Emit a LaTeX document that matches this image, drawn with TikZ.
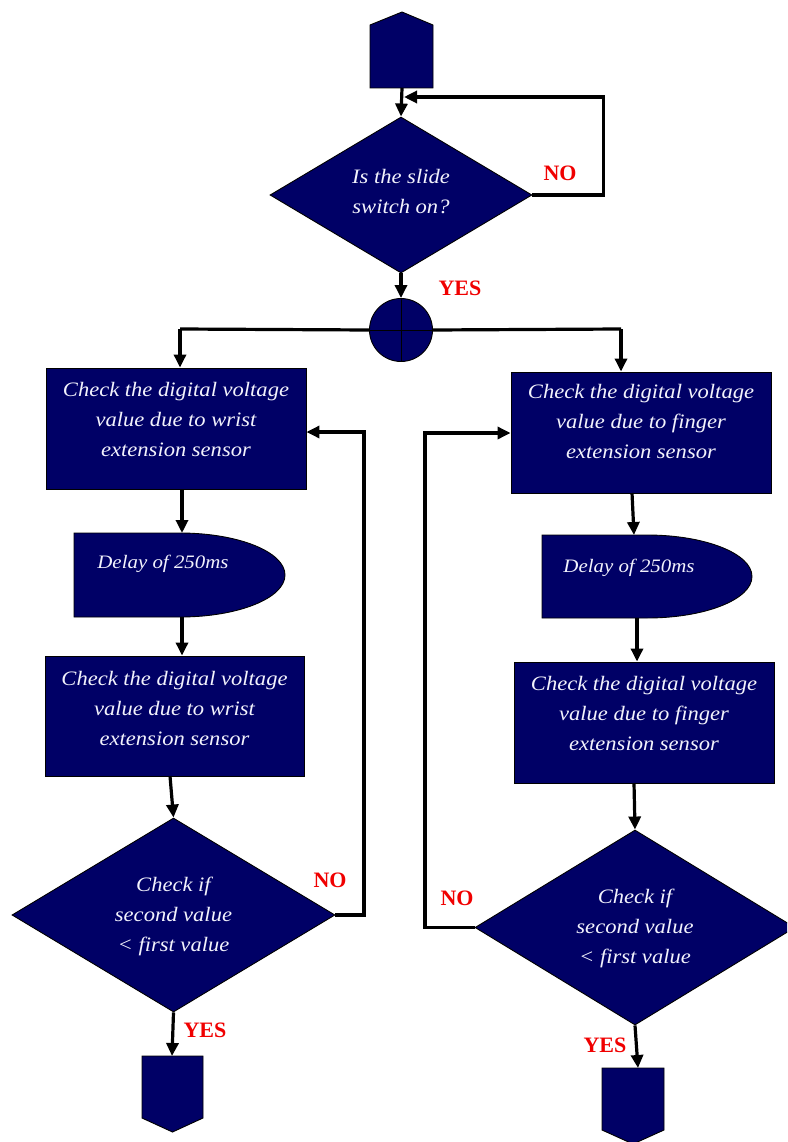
\documentclass[tikz,border=0pt]{standalone}
\usepackage{fontspec}
\setmainfont{Liberation Serif}
\newfontfamily\widefont[FakeStretch=1.1]{Liberation Serif}
\usetikzlibrary{arrows.meta,shapes.geometric,calc}
\definecolor{navy}{RGB}{0,0,102}
\definecolor{lbl}{RGB}{240,0,0}
\definecolor{txtc}{RGB}{242,242,252}
\begin{document}
\begin{tikzpicture}[x=1pt,y=-1pt,
  shp/.style={fill=navy,draw=black,line width=0.9pt},
  boxn/.style={shp,rectangle,inner sep=0pt},
  dia/.style={shp,diamond,inner sep=0pt},
  txt/.style={text=txtc,font=\widefont\fontsize{20.5}{30}\selectfont\itshape,align=center,inner sep=0pt},
  dtxt/.style={text=txtc,font=\widefont\fontsize{19}{22}\selectfont\itshape,inner sep=0pt},
  yn/.style={text=lbl,font=\fontsize{22}{24}\selectfont\bfseries,inner sep=0pt},
  conn/.style={line width=3.2pt,-{Triangle[length=13pt,width=12pt]}},
  line/.style={line width=3.2pt}]
\useasboundingbox (0,0) rectangle (787,1142);
\clip (0,0) rectangle (787,1142);
% start connector
\draw[shp] (370,25) -- (402,12) -- (433,25) -- (433,88) -- (370,88) -- cycle;
\coordinate (start) at (402,88);
% decision 1
\node[dia,minimum width=262pt,minimum height=156pt] (d1) at (401,195) {};
\node[txt] (d1t) at (401,192) {Is the slide\\switch on?};
\coordinate (j1) at (402,97);
% junction
\node[circle,shp,minimum size=63pt,inner sep=0pt] (junc) at (401,330) {};
\draw[line width=0.9pt] (junc.north) -- (junc.south) (junc.west) -- (junc.east);
% left column
\node[boxn,minimum width=260pt,minimum height=121pt] (L1) at (176,428.5) {};
\node[txt] (L1t) at (176,419) {Check the digital voltage\\value due to wrist\\extension sensor};
\draw[shp] (74,533) -- (180,533) arc (-90:90:105 and 42) -- (74,617) -- cycle;
\node[dtxt] (LDt) at (163,564) {Delay of 250ms};
\node[boxn,minimum width=259pt,minimum height=120pt] (L2) at (174.5,716) {};
\node[txt] (L2t) at (174.5,708) {Check the digital voltage\\value due to wrist\\extension sensor};
\node[dia,minimum width=323pt,minimum height=194pt] (dL) at (173.5,915) {};
\node[txt] (dLt) at (173.5,916) {Check if\\second value\\\textless{} first value};
\draw[shp] (142,1056) -- (203,1056) -- (203,1118) -- (172.5,1132) -- (142,1118) -- cycle;
\coordinate (endL) at (172,1056);
% right column
\node[boxn,minimum width=260pt,minimum height=121pt] (R1) at (641,432.5) {};
\node[txt] (R1t) at (641,421) {Check the digital voltage\\value due to finger\\extension sensor};
\draw[shp] (542,535) -- (647,535) arc (-90:90:105 and 41.5) -- (542,618) -- cycle;
\node[dtxt] (RDt) at (629,568) {Delay of 250ms};
\node[boxn,minimum width=260pt,minimum height=121pt] (R2) at (644,722.5) {};
\node[txt] (R2t) at (644,713) {Check the digital voltage\\value due to finger\\extension sensor};
\node[dia,minimum width=320pt,minimum height=195pt] (dR) at (635,927.5) {};
\node[txt] (dRt) at (635,928) {Check if\\second value\\\textless{} first value};
\draw[shp] (602,1068) -- (664,1068) -- (664,1130) -- (633,1144) -- (602,1130) -- cycle;
\coordinate (endR) at (638,1068);
% connectors
\draw[conn] (start) -- (d1.north);
\draw[conn] (d1.east) -- ++(71,0) |- ($(j1)+(2,0)$);
\draw[conn] (d1.south) -- (junc.north);
\draw[line] (junc.west) -- (180,329) coordinate (jl);
\draw[conn] (jl) -- (L1.north -| jl);
\draw[line] (junc.east) -- (621,329) coordinate (jr);
\draw[conn] (jr) -- (R1.north -| jr);
\draw[conn] (182,489) coordinate (a1) -- (182,533) coordinate (LDn);
\draw[conn] (182,617) coordinate (a2) -- (L2.north -| a2);
\draw[conn] (170,776) coordinate (a3) -- (dL.north);
\draw[conn] (dL.south) -- (endL);
\draw[conn] (dL.east) -- (364,915) |- (L1.east |- 0,432);
\draw[conn] (632,493) coordinate (b1) -- (634,535) coordinate (RDn);
\draw[conn] (637,618) coordinate (b2) -- (R2.north -| b2);
\draw[conn] (634,783) coordinate (b3) -- (dR.north);
\draw[conn] (dR.south) -- (endR);
\draw[conn] (dR.west) -- (425,927.5) |- (R1.west |- 0,433);
% labels
\node[yn] (no1) at (560,173) {NO};
\node[yn] (yes1) at (460,288) {YES};
\node[yn] (noL) at (330,880) {NO};
\node[yn] (yesL) at (205,1030) {YES};
\node[yn] (noR) at (457,898) {NO};
\node[yn] (yesR) at (605,1045) {YES};
\end{tikzpicture}
\end{document}
